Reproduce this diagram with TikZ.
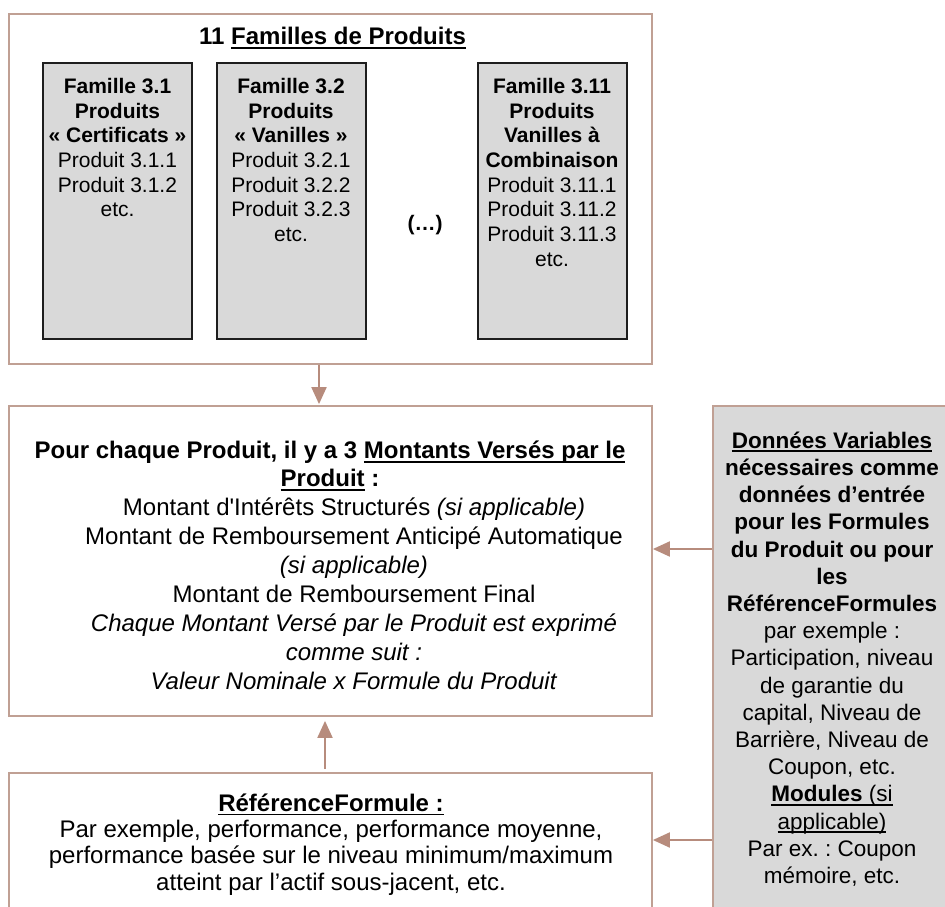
\documentclass[tikz,border=0pt]{standalone}
\usepackage{fontspec}
\setmainfont{Liberation Sans}
\newcommand{\myul}[1]{\leavevmode\setbox0=\hbox{#1}\rlap{\vrule height -2.2pt depth 4pt width \wd0}\box0\relax}
\frenchspacing
\usetikzlibrary{arrows.meta}
\definecolor{bord}{RGB}{192,160,148}
\definecolor{arrc}{RGB}{183,140,125}
\definecolor{grayf}{RGB}{217,217,217}
\definecolor{famb}{RGB}{30,30,30}
\begin{document}
\begin{tikzpicture}[x=1pt,y=-1pt,
  bigbox/.style={draw=bord, line width=1.8pt, fill=white, inner sep=0pt},
  graybox/.style={draw=bord, line width=1.8pt, fill=grayf, inner sep=0pt},
  fambox/.style={draw=famb, line width=2pt, fill=grayf, minimum width=149pt, minimum height=276pt, inner sep=0pt},
  famtxt/.style={anchor=north, align=center, inner sep=0pt, font=\fontsize{21}{24.7}\selectfont},
  bigtxt/.style={align=center, inner sep=0pt, font=\fontsize{24}{28.6}\selectfont},
  arr/.style={draw=arrc, line width=2pt, -{Triangle[width=15pt,length=17pt]}, fill=arrc}]
\useasboundingbox (0,0) rectangle (945,907);
\clip (0,0) rectangle (945,907);
% top box
\node[bigbox, minimum width=643pt, minimum height=350pt] (top) at (330.5,189) {};
\node[inner sep=0pt, font=\bfseries\fontsize{24}{28}\selectfont] (title) at (332.5,38) {11 \myul{Familles de Produits}};
\node[fambox] (f1) at (117.5,201) {};
\node[fambox] (f2) at (291,201) {};
\node[fambox] (f3) at (552,201) {};
\node[famtxt] (f1t) at (117.5,78) {\textbf{Famille 3.1}\\\textbf{Produits}\\\textbf{«~Certificats~»}\\Produit 3.1.1\\Produit 3.1.2\\etc.};
\node[famtxt] (f2t) at (291,78) {\textbf{Famille 3.2}\\\textbf{Produits}\\\textbf{«~Vanilles~»}\\Produit 3.2.1\\Produit 3.2.2\\Produit 3.2.3\\etc.};
\node[famtxt] (f3t) at (552,78) {\textbf{Famille 3.11}\\\textbf{Produits}\\\textbf{Vanilles à}\\\textbf{Combinaison}\\Produit 3.11.1\\Produit 3.11.2\\Produit 3.11.3\\etc.};
\node[inner sep=0pt, font=\bfseries\fontsize{21}{24}\selectfont] (dots) at (425,225) {(…)};
% middle box
\node[bigbox, minimum width=643pt, minimum height=310pt] (mid) at (330.5,561) {};
\node[bigtxt, font=\bfseries\fontsize{24}{28}\selectfont] (midh) at (330,466) {Pour chaque Produit, il y a 3 \myul{Montants Versés par le}\\\myul{Produit} :};
\node[bigtxt, font=\fontsize{24}{29}\selectfont] (midb) at (354,594) {Montant d\textquotesingle Intérêts Structurés \textit{(si applicable)}\\Montant de Remboursement Anticipé Automatique\\\textit{(si applicable)}\\Montant de Remboursement Final\\\textit{Chaque Montant Versé par le Produit est exprimé}\\\textit{comme suit :}\\\textit{Valeur Nominale x Formule du Produit}};
% bottom box
\node[bigbox, minimum width=643pt, minimum height=200pt] (bot) at (330.5,873) {};
\node[bigtxt, font=\fontsize{24}{26.3}\selectfont] (bott) at (331,844.5) {\textbf{\myul{RéférenceFormule :}}\\Par exemple, performance, performance moyenne,\\performance basée sur le niveau minimum/maximum\\atteint par l’actif sous-jacent, etc.};
% right box
\node[graybox, minimum width=260pt, minimum height=560pt] (var) at (843,686) {};
\node[align=center, inner sep=0pt, font=\fontsize{22.5}{27.2}\selectfont] (vart) at (832,659) {\textbf{\myul{Données Variables}}\\\textbf{nécessaires comme}\\\textbf{données d’entrée}\\\textbf{pour les Formules}\\\textbf{du Produit ou pour}\\\textbf{les}\\\textbf{RéférenceFormules}\\par exemple :\\Participation, niveau\\de garantie du\\capital, Niveau de\\Barrière, Niveau de\\Coupon, etc.\\\myul{\textbf{Modules} (si}\\\myul{applicable)}\\Par ex. : Coupon\\mémoire, etc.};
% connectors
\coordinate (a1) at (319,0);
\coordinate (a2) at (325,0);
\coordinate (a3) at (0,549);
\coordinate (a4) at (0,840);
\draw[arr, shorten >=1pt] (a1 |- top.south) -- (a1 |- mid.north);
\draw[arr, shorten <=3pt, shorten >=4pt] (a2 |- bot.north) -- (a2 |- mid.south);
\draw[arr] (a3 -| var.west) -- (a3 -| mid.east);
\draw[arr] (a4 -| var.west) -- (a4 -| bot.east);
\end{tikzpicture}
\end{document}
